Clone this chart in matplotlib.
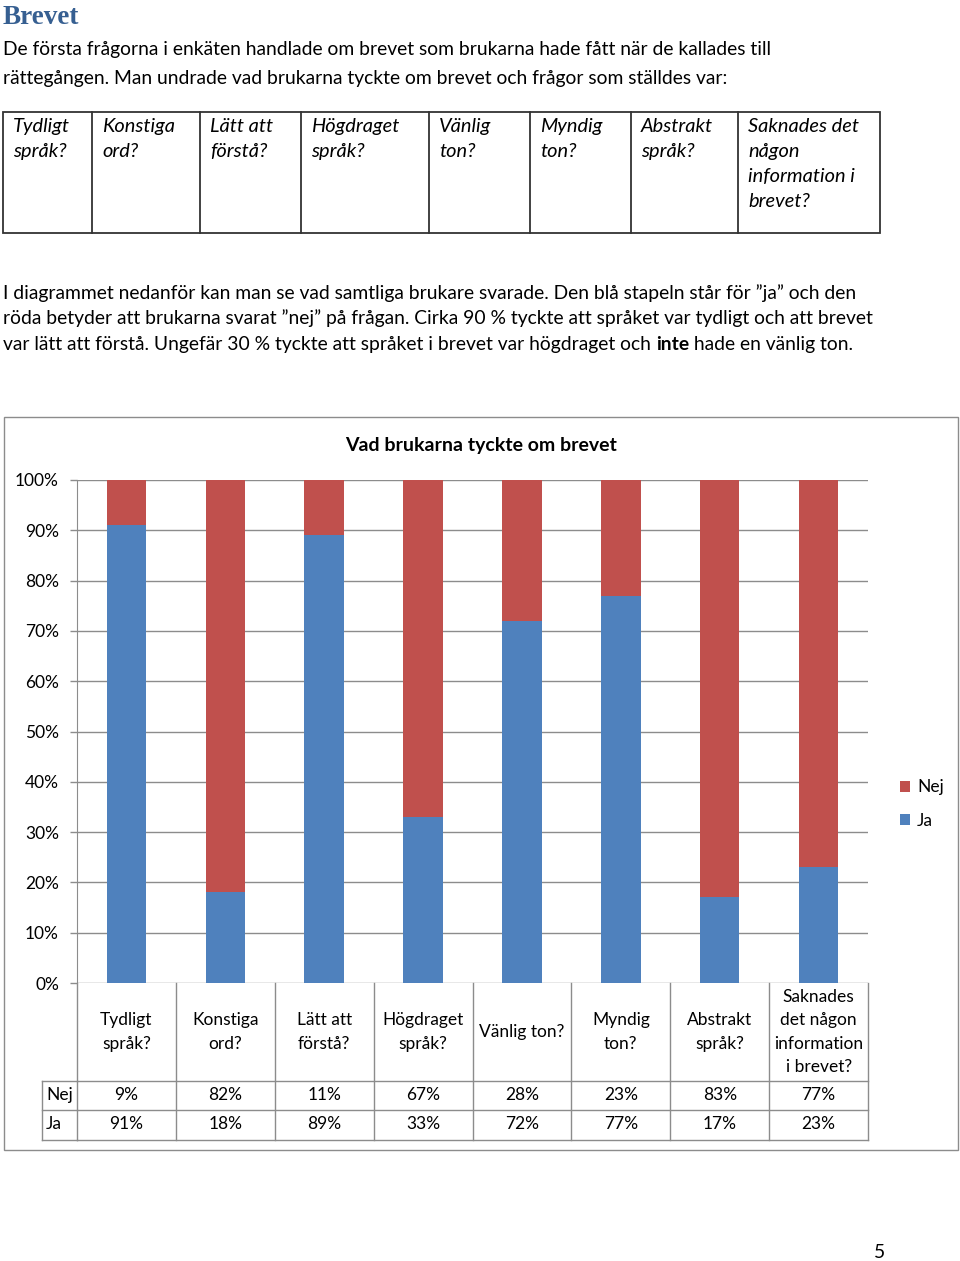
import matplotlib.pyplot as plt
import matplotlib.transforms as mtransforms
from matplotlib.patches import Rectangle
import numpy as np

plt.rcParams['font.family'] = ['Lato', 'DejaVu Sans']

''' Data '''
categories = ['Tydligt\nspråk?', 'Konstiga\nord?', 'Lätt att\nförstå?', 'Högdraget\nspråk?',
              'Vänlig ton?', 'Myndig\nton?', 'Abstrakt\nspråk?',
              'Saknades\ndet någon\ninformation\ni brevet?']
ja = [91, 18, 89, 33, 72, 77, 17, 23]
nej = [9, 82, 11, 67, 28, 23, 83, 77]
yticks = [0, 10, 20, 30, 40, 50, 60, 70, 80, 90, 100]
ytick_labels = ['{}%'.format(t) for t in yticks]

questions = ['Tydligt\nspråk?', 'Konstiga\nord?', 'Lätt att\nförstå?', 'Högdraget\nspråk?',
             'Vänlig\nton?', 'Myndig\nton?', 'Abstrakt\nspråk?',
             'Saknades det\nnågon\ninformation i\nbrevet?']

BLUE = '#4F81BD'
RED = '#C0504D'
GRID = '#8c8c8c'
FS = 13.9      # body text
FS_CH = 12.5   # chart text

''' Page setup (page axes in pixel coordinates) '''
W, H = 960, 1261
fig = plt.figure(figsize=(W / 100, H / 100), dpi=100)
page = fig.add_axes([0, 0, 1, 1])
page.set_xlim(0, W)
page.set_ylim(H, 0)
page.axis('off')

page.text(3, 24, 'Brevet', family='Liberation Serif', weight='bold', fontsize=19.5,
          color='#365F91', va='baseline')

body = dict(fontsize=FS, va='baseline', color='black')
page.text(3, 55, 'De första frågorna i enkäten handlade om brevet som brukarna hade fått när de kallades till', **body)
page.text(3, 84, 'rättegången. Man undrade vad brukarna tyckte om brevet och frågor som ställdes var:', **body)

# Question table
col_edges = [3, 92, 200, 301, 429, 530, 631, 738, 880]
page.add_patch(Rectangle((3, 112), 877, 121, fill=False, edgecolor='#333333', lw=1.3))
for x in col_edges[1:-1]:
    page.plot([x, x], [112, 233], color='#333333', lw=1.3)
for left, q in zip(col_edges[:-1], questions):
    for k, line in enumerate(q.split('\n')):
        page.text(left + 10, 132 + 25 * k, line, style='italic', fontsize=14.4,
                  va='baseline')

page.text(3, 299, 'I diagrammet nedanför kan man se vad samtliga brukare svarade. Den blå stapeln står för ”ja” och den', **body)
page.text(3, 324, 'röda betyder att brukarna svarat ”nej” på frågan. Cirka 90 % tyckte att språket var tydligt och att brevet', **body)
t1 = page.text(3, 350, 'var lätt att förstå. Ungefär 30 % tyckte att språket i brevet var högdraget och ', **body)
t2 = page.annotate('inte', xy=(1, 0), xycoords=t1, fontsize=FS, weight='bold', va='bottom')
page.annotate(' hade en vänlig ton.', xy=(1, 0), xycoords=t2, fontsize=FS, va='bottom')

# Chart border
page.add_patch(Rectangle((4, 417), 954, 733, fill=False, edgecolor=GRID, lw=1))
page.text(481, 451, 'Vad brukarna tyckte om brevet', weight='bold', fontsize=14,
          ha='center', va='baseline')

page.text(880, 1252, '5', fontsize=FS, ha='center', va='center')

''' Chart '''
ax = fig.add_axes([77 / W, 1 - 983 / H, (868 - 77) / W, (983 - 480) / H])
ax.set_facecolor('none')
x = np.arange(len(categories))
b_ja = ax.bar(x, ja, width=0.4, color=BLUE, zorder=3)
b_nej = ax.bar(x, nej, bottom=ja, width=0.4, color=RED, zorder=3)
ax.set_xlim(-0.5, len(categories) - 0.5)
ax.set_ylim(0, 100)
ax.set_yticks(yticks)
ax.set_yticklabels(ytick_labels, fontsize=FS_CH)
ax.set_xticks([])
ax.tick_params(axis='y', length=5, width=1, color=GRID, pad=8)
ax.yaxis.grid(True, color=GRID, lw=1, zorder=0)
for s in ['top', 'right', 'bottom']:
    ax.spines[s].set_visible(False)
ax.spines['left'].set_color(GRID)

ax.legend([b_nej, b_ja], ['Nej', 'Ja'], loc='center left', bbox_to_anchor=(884, 804),
          bbox_transform=page.transData, frameon=False, fontsize=FS_CH,
          handlelength=0.6, handleheight=0.6, handletextpad=0.4, labelspacing=1.0)

# Data table under the axis
trans = mtransforms.blended_transform_factory(ax.transData, page.transData)
line_kw = dict(color=GRID, lw=1, transform=trans, clip_on=False)
for edge in np.arange(len(categories) + 1) - 0.5:
    ax.plot([edge, edge], [983, 1140], **line_kw)
for yy in [1081, 1110, 1140]:
    ax.plot([-0.5, len(categories) - 0.5], [yy, yy], **line_kw)
for yy in [1081, 1110, 1140]:
    page.plot([42, 77], [yy, yy], color=GRID, lw=1)
page.plot([42, 42], [1081, 1140], color=GRID, lw=1)
page.text(46, 1095, 'Nej', fontsize=FS_CH, va='center')
page.text(46, 1124, 'Ja', fontsize=FS_CH, va='center')

for i, cat in enumerate(categories):
    ax.text(i, 1032, cat, transform=trans, ha='center', va='center', fontsize=FS_CH,
            linespacing=1.55, clip_on=False)
    ax.text(i, 1095, '{}%'.format(nej[i]), transform=trans, ha='center', va='center',
            fontsize=FS_CH, clip_on=False)
    ax.text(i, 1124, '{}%'.format(ja[i]), transform=trans, ha='center', va='center',
            fontsize=FS_CH, clip_on=False)

fig.savefig('out.png', dpi=100)
